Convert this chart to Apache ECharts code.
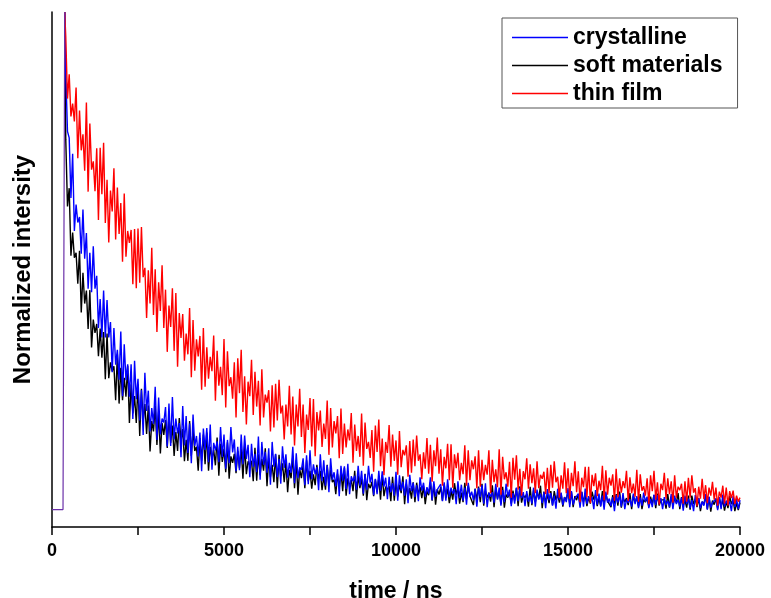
<!DOCTYPE html>
<html>
<head>
<meta charset="utf-8">
<script src="https://cdn.jsdelivr.net/npm/echarts@6/dist/echarts.min.js"></script>
<style>
html,body{margin:0;padding:0;background:#fff;}
#chart{width:771px;height:598px;}
</style>
</head>
<body>
<div id="chart"></div>
<script>
// Normalized intensity values are in thousandths (1000 = peak).
// Excitation pulse (shared by all three decays): time (ns) and intensity
const pulseTimes = [0, 320, 370];
const pulseValues = [0, 0, 1000];

// Decay sampling: first sample time and step (ns)
const DECAY_T0 = 400;
const DECAY_DT = 50;

const crystalline = [
880,760,747,626,715,560,613,577,588,514,603,504,556,444,516,437,529,444,470,365,
423,346,440,346,421,346,377,276,365,291,321,261,358,228,332,260,292,227,292,182,
299,222,263,179,240,150,275,198,239,157,204,172,247,140,225,151,183,175,206,127,
213,128,226,141,183,153,174,105,208,129,188,114,173,93,191,128,148,107,155,77,
163,120,164,95,171,80,134,119,137,95,166,106,151,82,140,93,166,115,141,77,
126,79,151,91,149,102,130,65,132,86,112,75,147,60,136,90,116,74,123,50,
136,86,112,65,102,52,127,84,111,64,94,74,126,53,113,63,85,80,103,49,
109,51,119,61,91,71,85,39,111,57,99,48,89,35,103,60,75,47,81,27,
88,58,87,41,92,31,67,57,68,40,88,48,78,32,71,40,88,54,72,29,
62,31,78,38,77,46,64,21,66,35,53,28,76,18,69,38,56,28,61,13,
70,37,54,25,49,17,65,38,54,26,45,32,65,19,57,26,40,37,51,17,
55,18,61,25,44,32,41,11,57,23,50,18,44,10,54,26,36,19,41,6,
44,25,49,12,53,5,34,26,35,14,52,20,44,8,39,15,52,26,40,7,
33,12,44,17,43,23,35,7,37,16,28,12,44,6,40,20,32,13,35,3,
41,19,33,8,28,2,42,20,34,9,25,15,43,5,37,10,22,20,32,4,
36,6,42,11,27,17,25,1,39,10,32,6,28,0,36,14,22,7,25,-3,
29,14,30,6,33,1,20,14,21,6,32,11,27,3,24,8,34,16,26,3,
21,5,30,9,29,13,23,1,25,9,18,5,31,1,28,11,20,6,24,-2,
28,11,22,3,19,-3,29,11,23,3,16,8,31,0,26,4,14,12,22,-1,
25,1,30,6,18,10,16,-3,27,5,22,1,19
];

const softMaterials = [
744,609,646,510,557,506,516,454,520,396,476,414,440,363,441,326,382,355,373,308,
364,305,357,262,354,264,296,278,288,220,312,213,285,220,265,227,289,174,252,193,
228,174,252,148,243,178,212,152,209,117,178,157,209,130,196,113,174,150,180,124,
190,134,169,108,156,118,184,137,162,97,140,98,178,108,160,118,126,78,144,98,
151,91,155,78,126,102,120,89,145,68,132,96,122,75,135,62,107,94,112,73,
118,83,123,62,129,71,97,88,98,57,124,58,111,69,102,78,123,47,103,65,
90,55,111,43,110,67,93,55,96,35,80,63,108,43,99,30,82,63,89,43,
99,57,78,42,71,49,90,62,78,39,66,40,90,48,80,55,60,31,72,44,
76,37,84,28,63,46,59,37,78,22,69,43,62,28,72,19,52,43,56,27,
61,35,64,20,69,27,46,40,47,17,66,18,57,26,50,33,67,11,52,24,
43,22,55,15,54,30,45,23,47,11,37,29,55,18,51,10,41,30,45,18,
51,24,42,13,38,20,53,30,43,12,34,15,54,21,48,27,31,9,42,19,
46,15,52,8,37,24,34,16,49,5,42,22,37,11,46,4,30,24,35,12,
38,18,43,7,47,14,29,24,31,6,46,9,39,15,35,22,48,3,36,14,
30,13,37,9,37,19,30,14,32,6,25,19,38,11,35,5,27,19,31,11,
35,16,29,7,25,12,36,20,30,7,23,8,37,13,32,17,21,5,29,12,
31,8,36,4,24,15,23,9,33,1,28,14,25,6,31,1,20,15,23,6,
26,11,29,3,32,8,19,16,20,2,31,4,26,9,23,13,33,1,25,8,
19,4,28,0,28,11,21,5,23,-3,16,10,29,1,25,-4,18,10,22,2,
25,6,19,-2,16,3,27,11,20,-3,13,-1,14
];

const thinFilm = [
950,826,875,790,816,780,848,706,802,722,754,681,818,639,776,683,700,640,726,582,
727,634,737,576,663,537,641,599,686,543,647,554,616,498,635,508,560,536,562,453,
564,445,565,456,568,467,486,385,481,414,526,391,483,357,457,399,491,365,442,317,
410,367,445,319,435,287,395,345,393,299,354,312,405,266,381,279,342,308,349,241,
365,247,326,263,307,278,350,219,319,249,287,230,343,205,318,248,266,223,296,185,
304,234,321,196,268,171,257,228,301,190,277,207,259,169,282,185,231,215,240,157,
250,165,253,179,261,193,209,141,211,167,249,151,227,129,211,167,243,146,211,114,
191,160,224,127,222,107,196,159,199,126,173,142,219,110,204,125,178,153,188,103,
203,112,173,125,161,139,194,94,171,118,148,106,193,88,175,122,136,104,160,76,
169,116,181,87,143,69,136,114,170,86,151,98,139,70,158,85,120,109,129,66,
138,74,141,87,149,98,111,61,115,82,144,72,130,56,119,87,145,72,121,48,
106,83,132,59,131,44,111,83,114,59,94,71,129,48,119,59,99,81,107,43,
119,46,100,59,90,70,119,33,100,55,81,45,121,30,106,61,75,46,96,24,
104,60,109,40,82,28,77,61,103,42,91,53,83,33,97,43,70,62,76,31,
84,33,90,44,97,55,66,24,69,42,95,33,83,22,74,47,97,35,77,15,
64,45,86,25,86,13,70,47,73,27,58,39,88,19,79,30,64,48,71,18,
82,25,63,34,57,43,78,17,65,33,52,26,80,16,71,38,47,28,63,11,
69,37,78,20,55,10,52,39,74,22,63,31,57,14,69,24,46,39,52,12,
57,16,64,24,69,34,43,7,46,22,62,21,49,13,44,28,56,20,44,8,
36,24,48,12,44,8,37,23,38,11,28,16,24
];

const seriesNames = ['crystalline', 'soft materials', 'thin film'];
const seriesColors = ['#0000ff', '#000000', '#ff0000'];
const xTicks = [0, 5000, 10000, 15000, 20000];

function buildSeries(values) {
  const pts = [[pulseTimes[2], pulseValues[2]]];
  values.forEach((v, i) => pts.push([DECAY_T0 + i * DECAY_DT, v]));
  return pts;
}
const pulseData = pulseTimes.map((t, i) => [t, pulseValues[i]]);

const FONT = 'Liberation Sans, Arial, sans-serif';
const chart = echarts.init(document.getElementById('chart'), null, {renderer: 'canvas'});
chart.setOption({
  animation: false,
  backgroundColor: '#fff',
  grid: {left: 52, right: 31, top: 12, bottom: 71, containLabel: false, outerBoundsMode: 'none'},
  legend: {
    data: seriesNames.map((n, i) => ({name: n, itemStyle: {color: seriesColors[i]}})),
    orient: 'vertical',
    left: 502,
    top: 18,
    padding: [8, 15, 3, 10],
    itemGap: 5,
    itemWidth: 56,
    itemHeight: 1.5,
    icon: 'rect',
    backgroundColor: '#fff',
    borderColor: '#555',
    borderWidth: 1,
    borderRadius: 0,
    textStyle: {fontSize: 23, fontWeight: 'bold', color: '#000', fontFamily: FONT, lineHeight: 23}
  },
  xAxis: {
    type: 'value',
    min: 0, max: 20000, interval: 2500,
    name: 'time / ns',
    nameLocation: 'middle',
    nameGap: 53,
    nameTextStyle: {fontSize: 23, fontWeight: 'bold', color: '#000', fontFamily: FONT},
    axisLine: {show: true, onZero: false, lineStyle: {color: '#000', width: 1.5}},
    axisTick: {show: true, length: 8, lineStyle: {color: '#000', width: 1.5}},
    axisLabel: {
      fontSize: 18, fontWeight: 'bold', color: '#000', fontFamily: FONT, margin: 15,
      formatter: v => (xTicks.indexOf(v) >= 0 ? String(v) : '')
    },
    splitLine: {show: false}
  },
  yAxis: {
    type: 'value',
    min: -35, max: 1000,
    name: 'Normalized intersity',
    nameLocation: 'middle',
    nameRotate: 90,
    nameGap: 17,
    nameTextStyle: {fontSize: 24, fontWeight: 'bold', color: '#000', fontFamily: FONT},
    axisLine: {show: true, onZero: false, lineStyle: {color: '#000', width: 1.5}},
    axisTick: {show: false},
    axisLabel: {show: false},
    splitLine: {show: false}
  },
  series: [
    {name: 'soft materials', type: 'line', data: buildSeries(softMaterials), symbol: 'none', showSymbol: false,
     lineStyle: {color: seriesColors[1], width: 1.4}, itemStyle: {color: seriesColors[1]}, z: 2},
    {name: 'crystalline', type: 'line', data: buildSeries(crystalline), symbol: 'none', showSymbol: false,
     lineStyle: {color: seriesColors[0], width: 1.4}, itemStyle: {color: seriesColors[0]}, z: 3},
    {name: 'thin film', type: 'line', data: buildSeries(thinFilm), symbol: 'none', showSymbol: false,
     lineStyle: {color: seriesColors[2], width: 1.4}, itemStyle: {color: seriesColors[2]}, z: 4},
    {name: 'pulse', type: 'line', data: pulseData, symbol: 'none', showSymbol: false,
     lineStyle: {color: '#6a2fa8', width: 1.2}, itemStyle: {color: '#6a2fa8'}, z: 5}
  ]
});
</script>
</body>
</html>
